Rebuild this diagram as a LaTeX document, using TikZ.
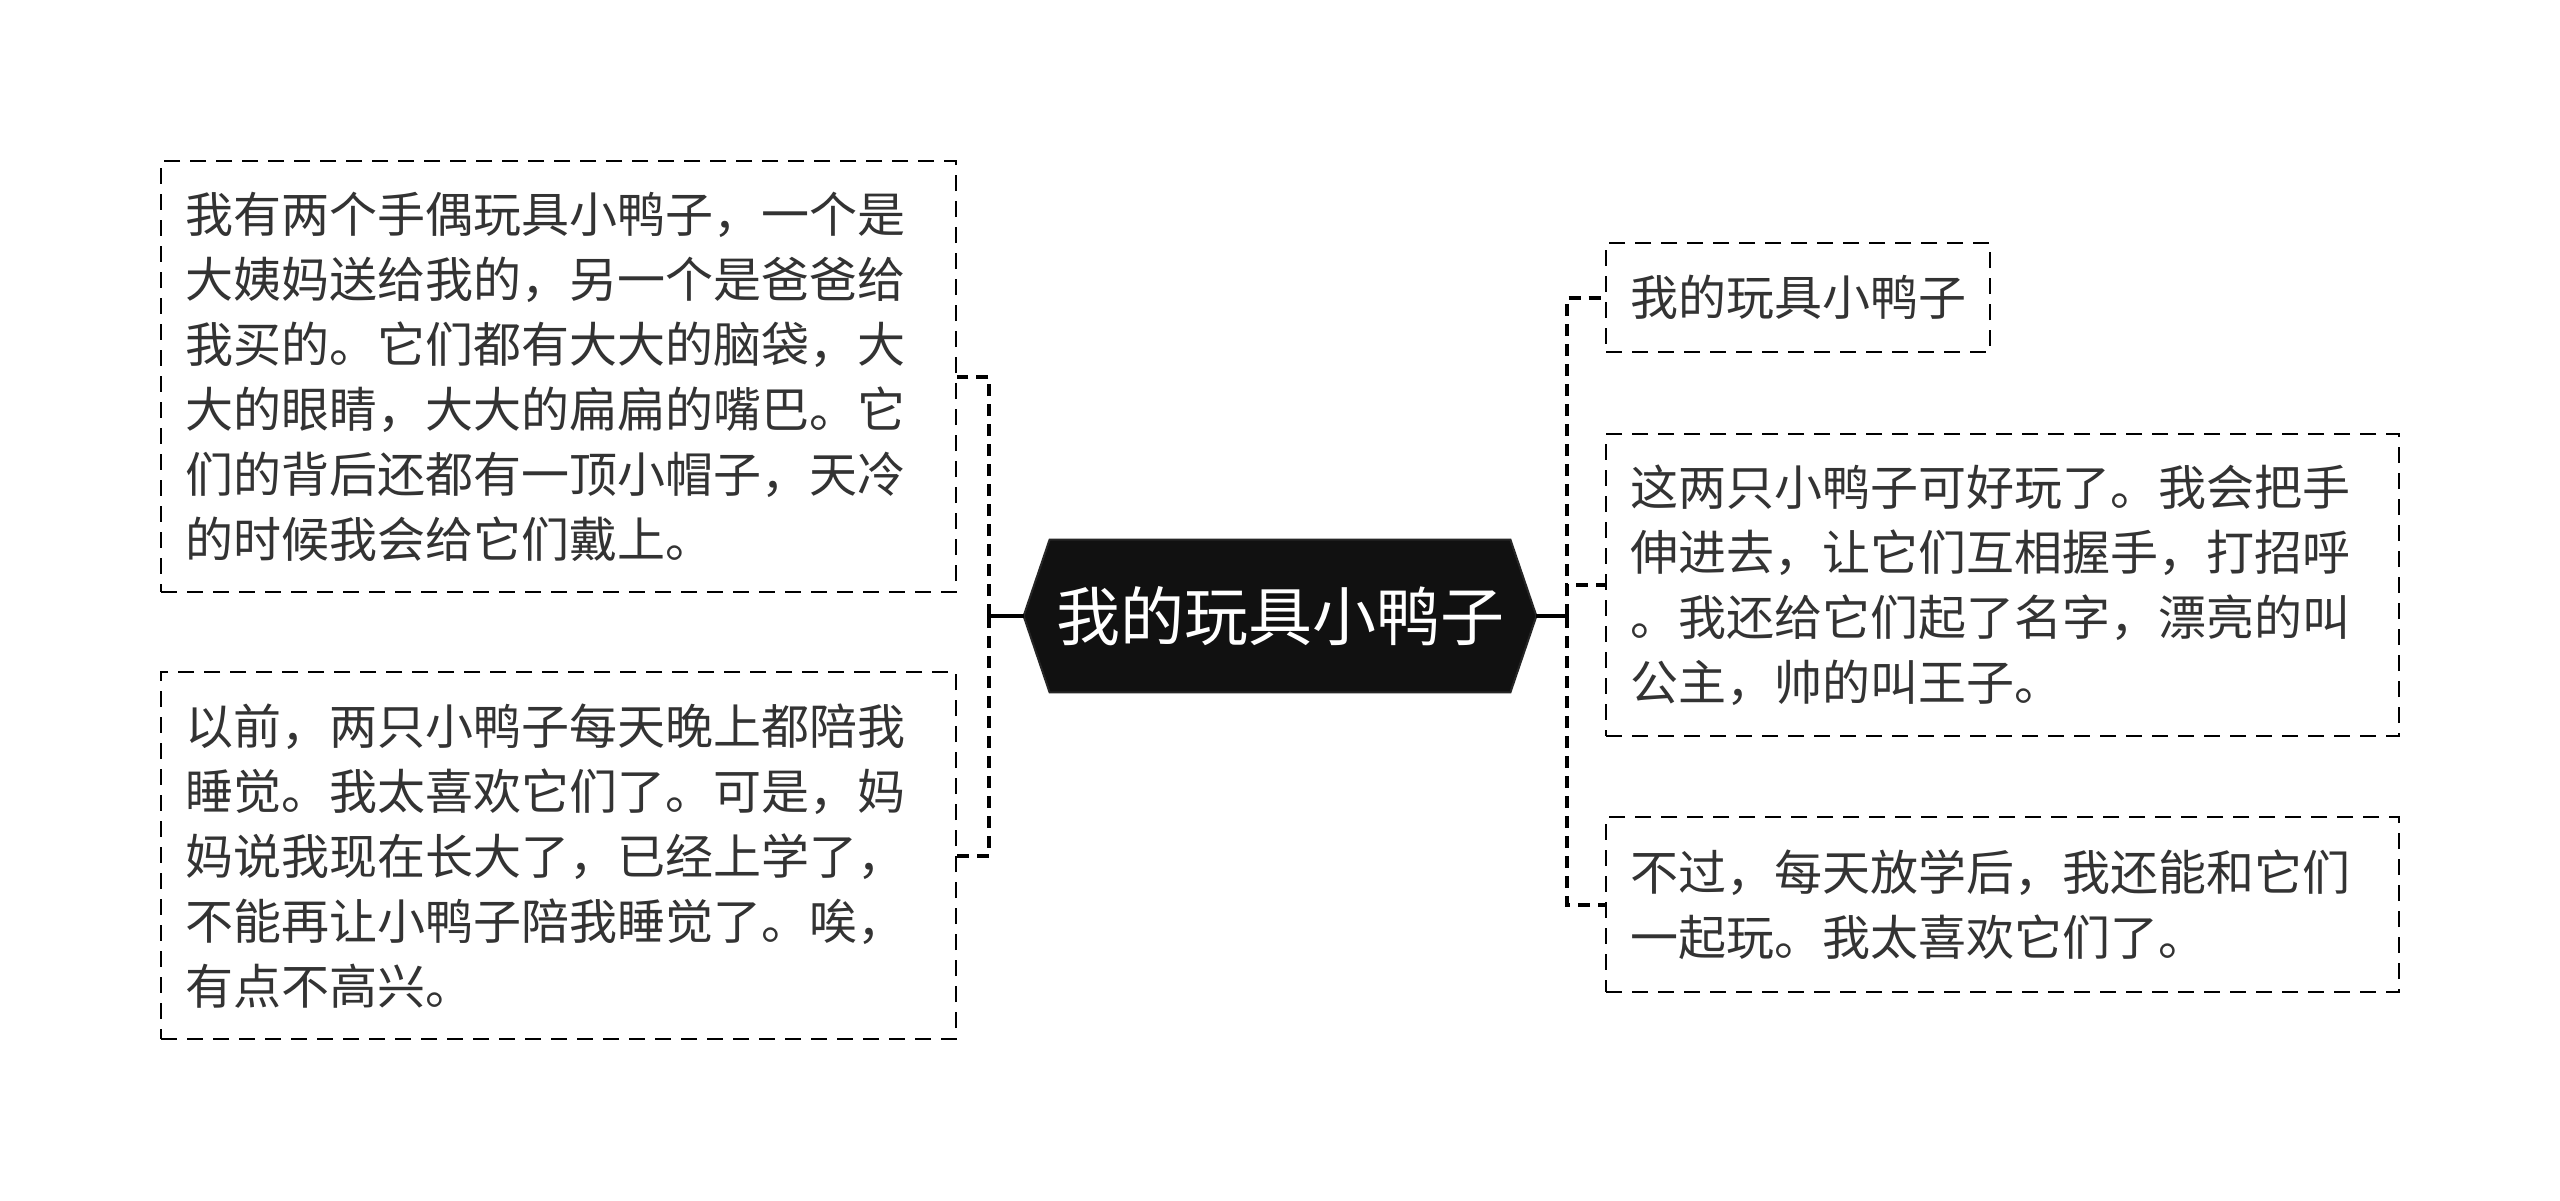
\documentclass[tikz,border=0pt]{standalone}
\usepackage{fontspec}
\setmainfont{Noto Sans CJK SC}
\usetikzlibrary{backgrounds}
\definecolor{txt}{HTML}{333333}
\definecolor{rootfill}{HTML}{111111}
\begin{document}
\begin{tikzpicture}[x=0.5pt,y=-0.5pt,
  box/.style={draw=black, line width=1.2pt, dash pattern=on 8pt off 5pt,
    align=left, inner xsep=12pt, inner ysep=0pt, anchor=north west,
    text=txt, font=\fontsize{24pt}{32.5pt}\selectfont},
  rootnode/.style={minimum width=256pt, minimum height=76pt, inner sep=0pt,
    text=white, font=\fontsize{32pt}{38pt}\selectfont},
  solidline/.style={line width=2pt, draw=black},
  dashline/.style={line width=2pt, draw=black, dash pattern=on 6pt off 4pt}]
\useasboundingbox (0,0) rectangle (2560,1200);

\node[rootnode] (root) at (1280,616) {我的玩具小鸭子};
\begin{pgfonlayer}{background}
\fill[white] (0,0) rectangle (2560,1200);
\filldraw[fill=rootfill, draw=black!85, line width=1pt]
  (root.west) -- ([xshift=13pt]root.north west) -- ([xshift=-13pt]root.north east)
  -- (root.east) -- ([xshift=-13pt]root.south east) -- ([xshift=13pt]root.south west) -- cycle;
\end{pgfonlayer}

\node[box, text width=373.5pt, minimum height=215.5pt] (l1) at (160,160) {我有两个手偶玩具小鸭子，一个是\\大姨妈送给我的，另一个是爸爸给\\我买的。它们都有大大的脑袋，大\\大的眼睛，大大的扁扁的嘴巴。它\\们的背后还都有一顶小帽子，天冷\\的时候我会给它们戴上。};
\node[box, text width=373.5pt, minimum height=183.5pt] (l2) at (160,671) {以前，两只小鸭子每天晚上都陪我\\睡觉。我太喜欢它们了。可是，妈\\妈说我现在长大了，已经上学了，\\不能再让小鸭子陪我睡觉了。唉，\\有点不高兴。};

\node[box, text width=168pt, minimum height=54.5pt] (r1) at (1605,242) {我的玩具小鸭子};
\node[box, text width=372.5pt, minimum height=151pt] (r2) at (1605,433) {这两只小鸭子可好玩了。我会把手\\伸进去，让它们互相握手，打招呼\\。我还给它们起了名字，漂亮的叫\\公主，帅的叫王子。};
\node[box, text width=372.5pt, minimum height=87.5pt] (r3) at (1605,816) {不过，每天放学后，我还能和它们\\一起玩。我太喜欢它们了。};

\coordinate (lj) at (989,616);
\coordinate (rj) at (1567,616);
\draw[solidline] (root.west) -- (lj);
\draw[dashline] (lj) |- (l1.east);
\draw[dashline] (lj) |- (l2.east);
\draw[solidline] (root.east) -- (rj);
\draw[dashline] (rj) |- (r1.west);
\draw[dashline] (rj) |- (r2.west);
\draw[dashline] (rj) |- (r3.west);
\end{tikzpicture}
\end{document}
